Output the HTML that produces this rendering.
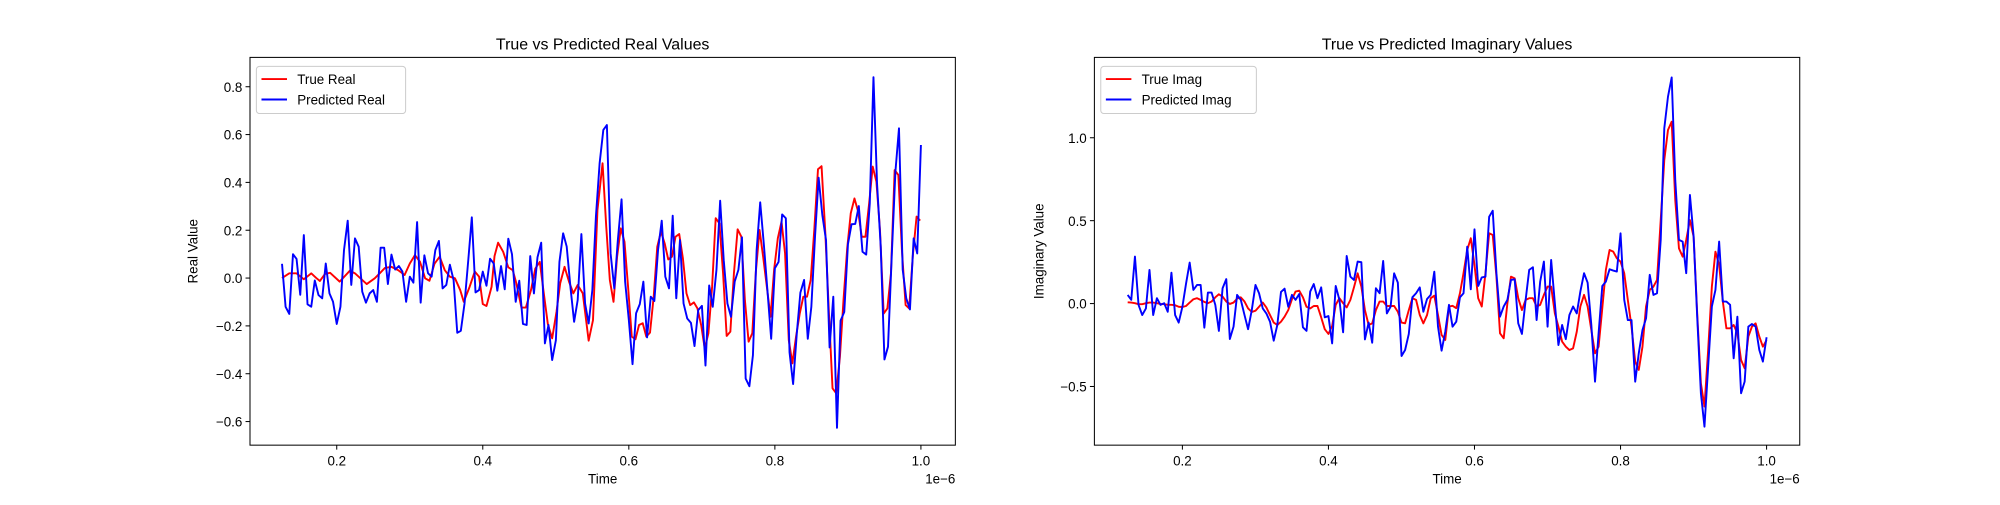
<!DOCTYPE html>
<html><head><meta charset="utf-8"><style>
body{margin:0;background:#fff}
svg text{font-family:"Liberation Sans","DejaVu Sans",sans-serif;fill:#000}
</style></head><body>
<svg width="2000" height="500" xmlns="http://www.w3.org/2000/svg"><g id="c" transform="scale(1.27551)"></g></svg>
<script>
// sample grid (units of 1e-6 s)
const tStart=0.125, tStep=0.005;
// Real: true values, first part at irregular times, rest on the grid from tailStart
const realTrueHeadT=[0.125,0.135,0.145,0.155,0.165,0.172,0.177,0.184,0.191,0.204,0.218,0.225,0.241,0.252,0.266,0.275,0.284,0.293,0.3,0.307,0.314,0.321,0.327,0.334,0.341,0.348,0.355,0.362,0.369,0.374,0.382,0.389,0.395,0.4,0.405,0.412,0.416,0.421,0.428,0.435,0.441,0.446,0.453,0.459,0.466,0.472,0.478,0.483,0.489,0.495,0.501,0.506,0.512,0.518,0.524,0.53,0.537,0.545,0.551,0.557,0.564,0.569];
const realTrueHeadV=[0.0,0.02,0.02,-0.005,0.02,0.0,-0.012,0.017,0.022,-0.015,0.031,0.02,-0.025,-0.001,0.042,0.047,0.033,0.013,0.061,0.096,0.068,-0.001,-0.011,0.061,0.089,0.033,0.006,-0.001,-0.05,-0.099,-0.036,0.027,0.006,-0.109,-0.117,-0.036,0.092,0.148,0.11,0.045,0.033,-0.022,-0.123,-0.123,-0.05,0.04,0.068,-0.05,-0.192,-0.252,-0.141,-0.022,0.047,-0.015,-0.064,-0.029,-0.064,-0.262,-0.176,0.284,0.48,0.215];
const realTailStart=0.574;
const realTrueTail=[-0.008,-0.099,0.089,0.208,0.152,-0.036,-0.245,-0.256,-0.196,-0.189,-0.245,-0.228,-0.078,0.131,0.194,0.145,0.078,0.089,0.173,0.184,0.082,-0.064,-0.113,-0.102,-0.127,-0.196,-0.294,-0.231,-0.036,0.25,0.229,0.02,-0.242,-0.224,0.02,0.204,0.173,-0.092,-0.266,-0.231,0.027,0.201,0.089,-0.036,-0.162,0.034,0.166,0.236,0.103,-0.259,-0.357,-0.245,-0.148,-0.078,-0.078,-0.008,0.201,0.455,0.468,0.194,-0.148,-0.461,-0.482,-0.329,-0.092,0.124,0.271,0.333,0.278,0.173,0.173,0.312,0.466,0.403,0.201,-0.148,-0.127,0.02,0.452,0.431,0.117,-0.113,-0.127,0.096,0.257,0.24];
const realPred=[0.06,-0.12,-0.15,0.10,0.08,-0.07,0.18,-0.11,-0.12,-0.01,
-0.071,-0.085,0.061,-0.064,-0.099,-0.192,-0.12,0.117,0.24,-0.029,0.166,0.131,-0.057,-0.103,-0.064,-0.05,-0.099,0.127,0.127,-0.025,0.098,0.036,0.05,0.027,-0.099,0.006,-0.019,0.234,-0.103,0.095,0.02,0.006,0.117,0.155,-0.043,-0.029,0.056,-0.008,-0.229,-0.22,-0.106,0.073,0.254,-0.06,-0.05,0.027,-0.032,0.081,0.061,-0.053,0.05,-0.047,0.165,0.1,-0.099,-0.011,-0.192,-0.196,0.092,-0.064,0.087,0.148,-0.273,-0.196,-0.343,-0.26,0.068,0.187,0.131,-0.036,-0.183,-0.092,0.184,-0.106,-0.19,-0.05,0.257,0.48,0.619,0.64,
0.103,-0.043,0.159,0.329,-0.015,-0.175,-0.36,-0.147,-0.109,-0.015,-0.248,-0.078,-0.096,0.117,0.24,0.006,-0.043,0.261,-0.085,0.159,-0.106,-0.169,-0.187,-0.284,-0.134,-0.116,-0.366,-0.031,-0.12,0.034,0.323,0.075,-0.106,-0.162,-0.015,0.034,0.17,-0.42,-0.452,-0.322,0.117,0.317,0.138,-0.061,-0.254,0.041,0.068,0.266,0.25,-0.311,-0.443,-0.231,-0.061,-0.008,-0.254,-0.12,0.176,0.42,0.264,0.159,-0.29,-0.078,-0.626,-0.178,-0.142,0.142,0.225,0.226,0.301,0.11,0.098,0.312,0.84,0.396,0.131,-0.34,-0.287,0.089,0.445,0.626,0.036,-0.085,-0.131,0.166,0.103,0.556];
const imagTrue=[0.008,0.006,0.002,-0.004,-0.004,0.002,0.006,0.006,0.002,-0.002,-0.004,-0.008,-0.008,-0.01,-0.019,-0.021,-0.015,0.006,0.026,0.032,0.022,0.01,0.002,0.012,0.038,0.056,0.042,0.012,-0.002,0.006,0.03,0.038,0.012,-0.029,-0.051,-0.043,-0.019,0.006,-0.023,-0.069,-0.115,-0.129,-0.109,-0.079,-0.039,0.026,0.072,0.078,0.038,-0.019,-0.029,-0.015,-0.015,-0.083,-0.155,-0.183,-0.135,-0.008,0.032,0.002,-0.023,0.022,0.098,0.182,0.102,-0.039,-0.129,-0.119,-0.039,0.012,0.012,-0.015,-0.015,-0.015,-0.049,-0.115,-0.119,-0.039,0.032,0.022,-0.069,-0.119,-0.069,0.032,0.048,-0.069,-0.189,-0.219,
-0.018,-0.014,-0.028,0.062,0.183,0.323,0.394,0.233,0.032,-0.018,0.183,0.424,0.414,0.162,-0.179,-0.209,0.002,0.162,0.152,0.032,-0.039,0.022,0.032,0.032,-0.018,-0.008,0.052,0.102,0.102,-0.059,-0.139,-0.229,-0.26,-0.28,-0.27,-0.169,-0.018,0.052,-0.018,-0.159,-0.3,-0.26,-0.028,0.203,0.323,0.313,0.273,0.253,0.183,0.022,-0.139,-0.35,-0.4,-0.26,-0.018,0.082,0.102,0.142,0.504,0.866,1.047,1.097,0.625,0.333,0.283,0.384,0.504,0.404,-0.059,-0.481,-0.621,-0.28,0.102,0.313,0.233,0.012,-0.149,-0.149,-0.129,-0.179,-0.34,-0.39,-0.199,-0.139,-0.119,-0.199,-0.26,-0.22];
const imagPred=[0.052,0.022,0.283,-0.008,-0.069,-0.029,0.203,-0.069,0.032,-0.008,0.002,-0.049,0.186,-0.069,-0.115,-0.019,0.122,0.247,0.082,0.112,0.112,-0.145,0.066,0.066,-0.008,-0.165,0.092,0.148,-0.214,-0.139,0.052,0.022,-0.069,-0.155,-0.039,0.112,0.062,-0.029,-0.059,-0.109,-0.224,-0.129,0.07,0.09,-0.019,0.052,0.022,0.058,-0.143,-0.165,0.072,0.118,0.032,0.098,-0.083,-0.075,-0.24,0.106,0.022,-0.173,0.287,0.162,0.142,0.253,0.249,-0.216,-0.115,-0.236,0.092,0.062,0.257,-0.059,-0.019,0.182,0.126,-0.316,-0.28,-0.183,0.038,0.062,0.098,-0.049,0.028,0.052,0.192,-0.139,-0.284,-0.169,
-0.008,-0.139,-0.109,0.038,0.062,0.343,0.086,0.448,0.106,0.158,0.162,0.524,0.56,0.183,-0.079,-0.018,0.022,0.142,0.146,-0.119,-0.183,0.022,0.203,0.219,-0.099,0.132,0.253,-0.139,0.263,0.002,-0.25,-0.129,-0.215,-0.069,-0.018,-0.059,0.072,0.183,0.126,-0.129,-0.471,-0.179,0.106,0.132,0.207,0.199,0.193,0.424,0.022,-0.099,-0.099,-0.471,-0.3,-0.159,-0.089,0.173,0.052,0.062,0.384,1.057,1.248,1.364,0.745,0.384,0.374,0.183,0.655,0.404,-0.079,-0.541,-0.742,-0.38,-0.018,0.082,0.374,0.012,0.012,-0.008,-0.33,-0.079,-0.541,-0.471,-0.139,-0.123,-0.139,-0.28,-0.35,-0.203];
const xTicks=[0.2,0.4,0.6,0.8,1.0];
const realYTicks=[-0.6,-0.4,-0.2,0.0,0.2,0.4,0.6,0.8];
const imagYTicks=[-0.5,0.0,0.5,1.0];

const svg=document.getElementById('c');
const NS='http://www.w3.org/2000/svg';
function mk(tag,attrs,parent){const e=document.createElementNS(NS,tag);for(const k in attrs)e.setAttribute(k,attrs[k]);(parent||svg).appendChild(e);return e;}
function grid(vals,start){return vals.map((v,i)=>[start+tStep*i,v]);}

const realTrueSeries=realTrueHeadT.map((t,i)=>[t,realTrueHeadV[i]]).concat(grid(realTrueTail,realTailStart));

function panel(o){
  const L=o.left,R=o.left+553,T=45,B=349;
  const sx=v=>o.x0+v*572.5;
  const sy=v=>o.y0-v*o.ppu;
  const g=mk('g',{});
  
  
  const clipId='clip'+o.left;
  const cp=mk('clipPath',{id:clipId},g);mk('rect',{x:L,y:T,width:R-L,height:B-T},cp);
  [[o.trueS,'#ff0000','true-line'],[o.predS,'#0000ff','predicted-line']].forEach(([arr,col,nm])=>{
    const pts=arr.map(([t,v])=>sx(t).toFixed(1)+','+sy(v).toFixed(1)).join(' ');
    const p=mk('polyline',{points:pts,fill:'none',stroke:col,'stroke-width':1.5,'stroke-linejoin':'round','clip-path':`url(#${clipId})`},g);
    
    
  });
  const fr=mk('rect',{x:L,y:T,width:R-L,height:B-T,fill:'none',stroke:'#000','stroke-width':0.8},g);
  
  
  xTicks.forEach(v=>{const x=sx(v);
    mk('line',{x1:x,y1:B,x2:x,y2:B+3.5,stroke:'#000','stroke-width':0.8},g);
    const t=mk('text',{x:x,y:B+16,'font-size':10.5,'text-anchor':'middle'},g);t.textContent=v.toFixed(1);
    
    });
  o.yTicks.forEach(v=>{const y=sy(v);
    mk('line',{x1:L-3.5,y1:y,x2:L,y2:y,stroke:'#000','stroke-width':0.8},g);
    const t=mk('text',{x:L-6,y:y+4,'font-size':10.5,'text-anchor':'end'},g);t.textContent=(v<0?'\u2212':'')+Math.abs(v).toFixed(1);
    
    });
  const ex=mk('text',{x:R,y:B+30,'font-size':10.5,'text-anchor':'end'},g);ex.textContent='1e\u22126';
  
  
  const xt=mk('text',{x:(L+R)/2,y:B+30,'font-size':10.5,'text-anchor':'middle'},g);xt.textContent='Time';
  
  
  const yt=mk('text',{x:0,y:0,'font-size':10.5,'text-anchor':'middle',transform:`translate(${o.yTitleX},${(T+B)/2}) rotate(-90)`},g);yt.textContent=o.yTitle;
  
  
  const tt=mk('text',{x:(L+R)/2,y:T-6,'font-size':12.5,'text-anchor':'middle'},g);tt.textContent=o.title;
  
  
  const lg=mk('g',{},g);
  
  
  mk('rect',{x:L+5,y:T+7,width:o.legW,height:37,rx:2.5,fill:'#fff',stroke:'#ccc','stroke-width':0.8},lg);
  [[o.labels[0],'#ff0000',T+17],[o.labels[1],'#0000ff',T+33]].forEach(([lab,col,y])=>{
    mk('line',{x1:L+9,y1:y,x2:L+29,y2:y,stroke:col,'stroke-width':1.5},lg);
    const t=mk('text',{x:L+37,y:y+4,'font-size':10.5},lg);t.textContent=lab;
    
    
  });
}
panel({name:'real-values-chart',left:196,x0:149.5,y0:218,ppu:187.5,trueS:realTrueSeries,predS:grid(realPred,tStart),yTicks:realYTicks,yTitle:'Real Value',yTitleX:155,title:'True vs Predicted Real Values',labels:['True Real','Predicted Real'],legW:117});
panel({name:'imaginary-values-chart',left:858,x0:812.5,y0:238,ppu:130,trueS:grid(imagTrue,tStart),predS:grid(imagPred,tStart),yTicks:imagYTicks,yTitle:'Imaginary Value',yTitleX:818,title:'True vs Predicted Imaginary Values',labels:['True Imag','Predicted Imag'],legW:122});
</script>
</body></html>
